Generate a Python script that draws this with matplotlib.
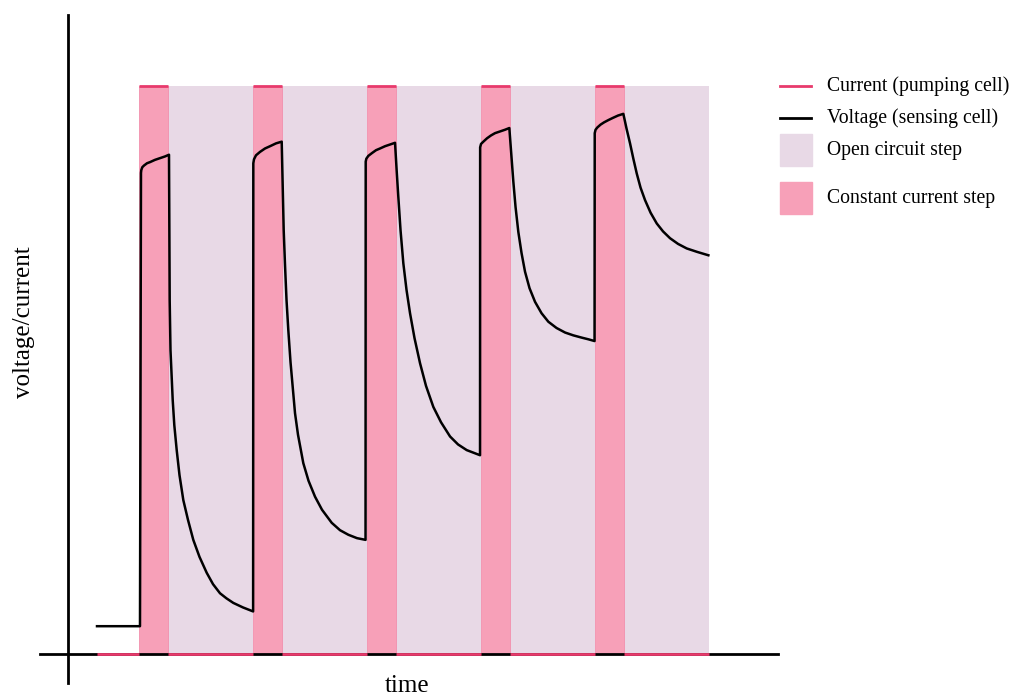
#!/usr/bin/env python3
"""Voltage/current response of a pumping + sensing cell to repeated constant-current pulses."""

import matplotlib

matplotlib.use("Agg")
import matplotlib.pyplot as plt
import numpy as np
from matplotlib.lines import Line2D
from matplotlib.patches import Rectangle

# step timing (arbitrary time units)
pulse_starts = [2.5, 6.5, 10.5, 14.5, 18.5]
pulse_len = 1.0
rest_len = 3.0
current_t0 = 1.02
current_level = 1.0

# voltage of the sensing cell (one row per step)
volt_t = [
    1.018, 2.526,
    2.561, 2.572, 2.607, 2.667, 2.772, 2.877, 3.053, 3.228, 3.404, 3.544,
    3.551, 3.558, 3.568, 3.596, 3.674, 3.730, 3.814, 3.912, 4.046, 4.211,
    4.396, 4.614, 4.867, 5.088, 5.333, 5.561, 5.800, 6.140, 6.495,
    6.502, 6.526, 6.596, 6.737, 6.912, 7.088, 7.298, 7.498,
    7.519, 7.544, 7.568, 7.614, 7.667, 7.730, 7.807, 7.895, 7.965, 8.070,
    8.256, 8.439, 8.667, 8.912, 9.253, 9.544, 9.835, 10.140, 10.439,
    10.445, 10.467, 10.537, 10.667, 10.807, 10.947, 11.123, 11.298, 11.474,
    11.530, 11.589, 11.667, 11.765, 11.877, 12.000, 12.158, 12.351, 12.561,
    12.818, 13.088, 13.404, 13.684, 13.989, 14.246, 14.456,
    14.460, 14.491, 14.572, 14.702, 14.842, 14.982, 15.158, 15.333, 15.484,
    15.554, 15.624, 15.702, 15.800, 15.912, 16.035, 16.193, 16.386, 16.614,
    16.853, 17.140, 17.439, 17.730, 18.025, 18.263, 18.474,
    18.480, 18.509, 18.572, 18.684, 18.807, 18.958, 19.123, 19.298, 19.484,
    19.596, 19.719, 19.835, 19.954, 20.088, 20.246, 20.439, 20.656, 20.877,
    21.123, 21.404, 21.709, 22.070, 22.467,
]
volt_v = [
    0.049, 0.049,
    0.847, 0.852, 0.857, 0.860, 0.864, 0.866, 0.870, 0.873, 0.876, 0.879,
    0.799, 0.711, 0.623, 0.535, 0.447, 0.403, 0.359, 0.315, 0.271, 0.236,
    0.201, 0.171, 0.143, 0.123, 0.107, 0.098, 0.090, 0.082, 0.075,
    0.864, 0.871, 0.878, 0.884, 0.890, 0.894, 0.899, 0.902,
    0.852, 0.799, 0.746, 0.685, 0.623, 0.570, 0.514, 0.465, 0.424, 0.386,
    0.336, 0.305, 0.277, 0.254, 0.231, 0.218, 0.210, 0.204, 0.201,
    0.867, 0.872, 0.877, 0.882, 0.887, 0.890, 0.894, 0.897, 0.900,
    0.852, 0.805, 0.746, 0.688, 0.641, 0.600, 0.556, 0.512, 0.472,
    0.435, 0.408, 0.383, 0.369, 0.359, 0.354, 0.350,
    0.892, 0.898, 0.902, 0.908, 0.913, 0.917, 0.920, 0.923, 0.926,
    0.879, 0.832, 0.787, 0.743, 0.706, 0.673, 0.644, 0.620, 0.600,
    0.585, 0.574, 0.566, 0.561, 0.557, 0.554, 0.551,
    0.917, 0.923, 0.927, 0.932, 0.936, 0.940, 0.944, 0.948, 0.951,
    0.925, 0.899, 0.872, 0.846, 0.821, 0.799, 0.777, 0.758, 0.744,
    0.732, 0.722, 0.714, 0.708, 0.702,
]

PULSE_COLOR = "#f7a0b8"
REST_COLOR = "#e8d9e6"
CURRENT_COLOR = "#e83a6c"

plt.rcParams["font.family"] = ["Liberation Serif", "DejaVu Serif"]

fig = plt.figure(figsize=(10.13, 6.97), dpi=100)
ax = fig.add_axes([40 / 1013, 14 / 697, 738 / 1013, 668 / 697])
ax.set_xlim(-0.982, 24.91)
ax.set_ylim(-0.051, 1.125)

# shaded steps
starts = np.array(pulse_starts)
ax.bar(starts + pulse_len, current_level, width=rest_len, bottom=0, align="edge",
       color=REST_COLOR, linewidth=0, zorder=1)
ax.bar(starts, current_level, width=pulse_len, bottom=0, align="edge",
       color=PULSE_COLOR, edgecolor="#f28fad", linewidth=0.6, zorder=1.5)

# pumping current: zero between pulses, on during pulses (horizontal pieces only)
cur_t, cur_v = [current_t0, starts[0], np.nan], [0, 0, np.nan]
for s in starts:
    cur_t += [s, s + pulse_len, np.nan, s + pulse_len, s + pulse_len + rest_len, np.nan]
    cur_v += [current_level, current_level, np.nan, 0, 0, np.nan]
ax.plot(cur_t, cur_v, color=CURRENT_COLOR, lw=2.0, solid_capstyle="butt", zorder=3)

ax.plot(volt_t, volt_v, color="black", lw=1.8, solid_joinstyle="round", zorder=4)

# axes drawn as a cross through the origin
for side in ("top", "right"):
    ax.spines[side].set_visible(False)
ax.spines["left"].set_position(("data", 0))
ax.spines["bottom"].set_position(("data", 0))
for side in ("left", "bottom"):
    ax.spines[side].set_linewidth(2.0)
    ax.spines[side].set_zorder(2)
ax.set_xticks([])
ax.set_yticks([])
ax.patch.set_alpha(0)

W, H = 1013, 697
fig.text(24 / W, 1 - 322 / H, "voltage/current", rotation=90, fontsize=18,
         ha="center", va="center")
fig.text(407 / W, 1 - 692 / H, "time", fontsize=18, ha="center", va="baseline")

# hand-placed legend to keep the uneven spacing of the original
fig.add_artist(Line2D([780 / W, 811 / W], [1 - 86 / H] * 2, color=CURRENT_COLOR, lw=2.0,
                      transform=fig.transFigure))
fig.add_artist(Line2D([780 / W, 811 / W], [1 - 118 / H] * 2, color="black", lw=2.0,
                      transform=fig.transFigure))
fig.add_artist(Rectangle((780 / W, 1 - 166 / H), 32 / W, 32 / H, color=REST_COLOR,
                         transform=fig.transFigure))
fig.add_artist(Rectangle((780 / W, 1 - 214 / H), 32 / W, 32 / H, color=PULSE_COLOR,
                         transform=fig.transFigure))
labels = ["Current (pumping cell)", "Voltage (sensing cell)", "Open circuit step",
          "Constant current step"]
for label, y in zip(labels, [90.7, 123.3, 155, 202.7]):
    fig.text(826.5 / W, 1 - y / H, label, fontsize=14.2, ha="left", va="baseline")

fig.savefig("out.png", dpi=100)
